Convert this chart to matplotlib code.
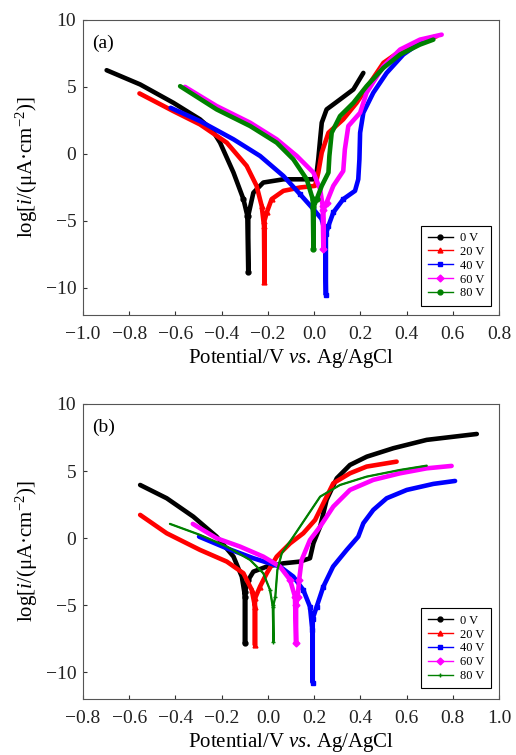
import matplotlib
matplotlib.use("Agg")
import matplotlib.pyplot as plt

plt.rcParams["font.family"] = ["Liberation Serif", "DejaVu Serif"]
plt.rcParams["mathtext.fontset"] = "custom"
plt.rcParams["mathtext.rm"] = "Liberation Serif"
plt.rcParams["mathtext.it"] = "Liberation Serif:italic"

labels = ["0 V", "20 V", "40 V", "60 V", "80 V"]
colors = ["#000000", "#ff0000", "#0000ff", "#ff00ff", "#008000"]

# === panel (a): potential (V) and log i ===
a_E = [
    [-0.898, -0.753, -0.609, -0.494, -0.44, -0.407, -0.349, -0.306, -0.289, -0.285, -0.285,
     -0.263, -0.22, -0.133, -0.003, 0.011, 0.018, 0.026, 0.033, 0.054, 0.112, 0.170, 0.213],
    [-0.756, -0.609, -0.494, -0.378, -0.292, -0.249, -0.227, -0.217, -0.215, -0.215,
     -0.205, -0.184, -0.133, -0.061, 0.004, 0.018, 0.033, 0.062, 0.126, 0.184, 0.242,
     0.300, 0.372, 0.458, 0.53],
    [-0.621, -0.494, -0.349, -0.234, -0.133, -0.061, -0.003, 0.033, 0.047, 0.051, 0.051,
     0.062, 0.083, 0.126, 0.177, 0.191, 0.196, 0.199, 0.213, 0.256, 0.314, 0.386, 0.458, 0.516],
    [-0.559, -0.422, -0.277, -0.162, -0.075, -0.003, 0.026, 0.037, 0.040, 0.040,
     0.054, 0.083, 0.126, 0.133, 0.148, 0.199, 0.227, 0.300, 0.372, 0.458, 0.552],
    [-0.580, -0.422, -0.277, -0.162, -0.090, -0.032, -0.006, -0.003, -0.003,
     0.011, 0.033, 0.062, 0.066, 0.076, 0.112, 0.170, 0.227, 0.300, 0.372, 0.458, 0.516],
]
a_L = [
    [6.23, 5.17, 3.80, 2.57, 1.75, 0.83, -1.40, -3.38, -4.62, -8.84, -4.6,
     -2.9, -2.14, -1.9, -1.9, -1.4, -0.4, 1.08, 2.32, 3.31, 4.05, 4.80, 6.03],
    [4.50, 3.18, 2.19, 0.83, -0.90, -2.39, -3.88, -5.37, -9.58, -5.0,
     -4.37, -3.38, -2.76, -2.51, -2.39, -1.40, 0.09, 1.57, 2.57, 3.80, 5.29,
     6.78, 7.65, 8.39, 8.76],
    [3.43, 2.44, 1.08, -0.16, -1.65, -3.01, -4.13, -4.87, -5.86, -10.52, -6.0,
     -5.37, -4.37, -3.38, -2.76, -1.9, -0.41, 1.57, 3.06, 4.55, 6.03, 7.40, 8.27, 8.64],
    [4.99, 3.56, 2.32, 1.08, -0.16, -1.40, -2.64, -3.88, -7.10, -4.2,
     -3.63, -2.39, -1.28, 0.33, 2.07, 3.06, 4.55, 6.53, 7.77, 8.51, 8.88],
    [5.04, 3.31, 2.07, 0.83, -0.41, -1.90, -3.38, -7.10, -4.0,
     -3.38, -2.39, -1.40, -0.16, 1.57, 2.81, 3.80, 5.04, 6.41, 7.40, 8.14, 8.51],
]

# === panel (b) ===
b_E = [
    [-0.553, -0.438, -0.323, -0.222, -0.149, -0.113, -0.099, -0.099, -0.099,
     -0.085, -0.063, -0.005, 0.067, 0.139, 0.182, 0.197, 0.226, 0.254, 0.298, 0.355,
     0.428, 0.543, 0.687, 0.904],
    [-0.553, -0.438, -0.294, -0.178, -0.106, -0.070, -0.056, -0.056, -0.056,
     -0.034, -0.005, 0.038, 0.096, 0.153, 0.204, 0.240, 0.283, 0.355, 0.427, 0.557],
    [-0.298, -0.178, -0.063, 0.052, 0.110, 0.153, 0.182, 0.192, 0.194, 0.194,
     0.211, 0.240, 0.282, 0.341, 0.391, 0.413, 0.456, 0.514, 0.601, 0.716, 0.810],
    [-0.325, -0.222, -0.121, -0.020, 0.052, 0.096, 0.117, 0.122, 0.122,
     0.129, 0.135, 0.146, 0.182, 0.226, 0.283, 0.355, 0.456, 0.572, 0.687, 0.795],
    [-0.424, -0.294, -0.178, -0.077, -0.020, 0.009, 0.021, 0.024, 0.024,
     0.032, 0.041, 0.060, 0.110, 0.168, 0.226, 0.312, 0.427, 0.572, 0.687],
]
b_L = [
    [3.96, 2.97, 1.60, 0.11, -1.38, -2.87, -4.36, -7.84, -4.0,
     -3.12, -2.50, -2.12, -1.88, -1.75, -1.50, -0.38, 0.86, 2.85, 4.46, 5.45,
     6.07, 6.70, 7.32, 7.76],
    [1.73, 0.36, -0.88, -1.75, -2.62, -3.86, -5.11, -7.96, -4.5,
     -3.61, -2.62, -1.38, -0.39, 0.36, 1.35, 2.60, 4.09, 4.83, 5.33, 5.70],
    [0.11, -0.76, -1.50, -2.12, -2.87, -3.86, -5.11, -6.84, -10.77, -6.0,
     -5.11, -3.61, -2.12, -0.88, 0.11, 1.11, 2.10, 2.97, 3.59, 4.04, 4.26],
    [1.06, -0.01, -0.63, -1.38, -2.12, -3.12, -4.36, -7.84, -5.0,
     -4.36, -3.12, -1.63, -0.14, 0.86, 2.35, 3.59, 4.34, 4.83, 5.20, 5.38],
    [1.06, 0.24, -0.63, -1.63, -2.62, -3.86, -5.11, -7.71, -5.0,
     -4.36, -2.37, -1.13, 0.11, 1.60, 3.09, 3.96, 4.58, 5.08, 5.40],
]

a_markers = ["o", "^", "s", "D", "o"]
b_markers = ["o", "^", "s", "D", "+"]
a_widths = [3.3, 3.3, 3.3, 3.3, 3.3]
b_widths = [3.3, 3.3, 3.3, 3.3, 1.6]

fig = plt.figure(figsize=(5.16, 7.55), dpi=100)
ax_a = fig.add_axes([0.161, 0.583, 0.806, 0.391])
ax_b = fig.add_axes([0.161, 0.074, 0.806, 0.391])


def draw_panel(ax, E, L, markers, widths, tag, xlim, xticks, leg_y):
    for i in range(5):
        # markers only show on the steep tail near the corrosion potential
        tail = [k for k, v in enumerate(L[i]) if v < -3.0]
        ax.plot(E[i], L[i], color=colors[i], lw=widths[i], solid_capstyle="round",
                solid_joinstyle="round")
        ax.plot(E[i], L[i], color=colors[i], lw=1.0, marker=markers[i],
                markersize=3.5, markevery=tail, label=labels[i])
    ax.set_xlim(*xlim)
    ax.set_ylim(-12, 10)
    ax.set_xticks(xticks)
    ax.set_yticks([-10, -5, 0, 5, 10])
    ax.set_xticklabels([f"{t:.1f}".replace("-", "\u2212") for t in xticks])
    ax.set_yticklabels(["\u221210", "\u22125", "0", "5", "10"])
    ax.tick_params(direction="in", length=3, labelsize=14, colors="#333333",
                   labelcolor="#222222")
    ax.tick_params(axis="x", pad=8)
    ax.tick_params(axis="y", pad=5)
    for s in ax.spines.values():
        s.set_color("#555555")
        s.set_linewidth(0.8)
    ax.set_xlabel("Potential/V $\\mathit{vs}$. Ag/AgCl", fontsize=15, labelpad=3)
    ax.set_ylabel("log[$\\mathit{i}$/(\u03bcA\u00b7cm$^{\\mathrm{\u22122}}$)]",
                  fontsize=15, labelpad=4)
    ax.text(0.022, 0.92, tag, transform=ax.transAxes, fontsize=14, va="center")
    leg = ax.legend(loc="lower right", fontsize=9, frameon=True, fancybox=False,
                    edgecolor="black", framealpha=1, labelspacing=0.15,
                    handlelength=2.0, borderpad=0.5, handletextpad=0.6,
                    bbox_to_anchor=(0.995, leg_y))
    leg.get_frame().set_linewidth(0.8)


draw_panel(ax_a, a_E, a_L, a_markers, a_widths, "(a)", (-1.0, 0.8),
           [-1.0, -0.8, -0.6, -0.4, -0.2, 0.0, 0.2, 0.4, 0.6, 0.8], 0.01)
draw_panel(ax_b, b_E, b_L, b_markers, b_widths, "(b)", (-0.8, 1.0),
           [-0.8, -0.6, -0.4, -0.2, 0.0, 0.2, 0.4, 0.6, 0.8, 1.0], 0.015)

fig.savefig("out.png", dpi=100)
